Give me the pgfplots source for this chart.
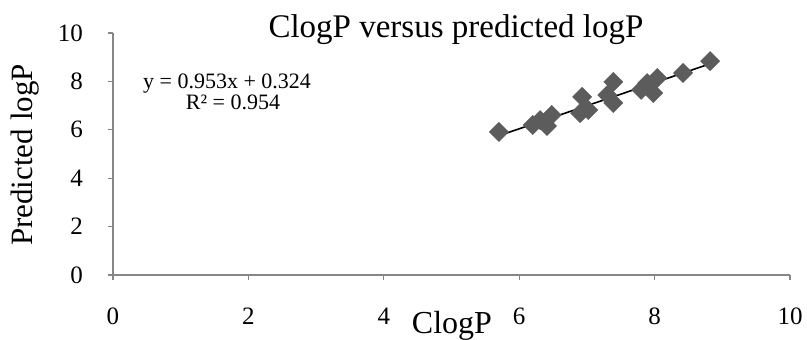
\documentclass[border=0pt]{standalone}
\usepackage{fontspec}
\setmainfont{Liberation Serif}
\usepackage{pgfplots}
\pgfplotsset{compat=1.18}
\definecolor{axgray}{RGB}{134,134,134}
\definecolor{mk}{RGB}{92,92,92}
\begin{document}
\begin{tikzpicture}
\begin{axis}[name=ax, scale only axis, width=677bp, height=242bp,
 xmin=0, xmax=10, ymin=0, ymax=10,
 xtick={0,2,...,10}, ytick={0,2,...,10},
 axis x line=bottom, axis y line=left,
 axis line style={-, axgray, line width=1.2bp},
 tick style={axgray, line width=1.2bp}, tick align=outside, major tick length=5bp,
 /pgf/number format/assume math mode=true,
 tick label style={font=\fontsize{25bp}{30bp}\selectfont, inner sep=0pt, text=black},
 xticklabel style={anchor=base, yshift=-44bp},
 yticklabel style={anchor=east, xshift=-25bp},
 clip=false]
\addplot[only marks, mark=square*, mark size=6.8bp, mark options={rotate=45, fill=mk, draw=mk}]
 coordinates {
 (5.70,5.91) (6.20,6.20) (6.31,6.40) (6.41,6.16) (6.48,6.61)
 (6.90,6.69) (6.93,7.36) (7.02,6.82) (7.30,7.44) (7.39,7.98)
 (7.39,7.11) (7.80,7.65) (7.89,7.93) (7.98,7.52) (8.04,8.14)
 (8.42,8.35) (8.82,8.84)};
\addplot[black, line width=1.6bp, no marks] coordinates {(5.70,5.756) (8.82,8.729)};
\end{axis}
\node[anchor=base, font=\fontsize{33bp}{38bp}\selectfont, inner sep=0pt] at ([xshift=343bp, yshift=237bp]ax.south west) {ClogP versus predicted logP};
\node[anchor=base, font=\fontsize{22bp}{26bp}\selectfont, inner sep=0pt] at ([xshift=114bp, yshift=186bp]ax.south west) {y = 0.953x + 0.324};
\node[anchor=base, font=\fontsize{22bp}{26bp}\selectfont, inner sep=0pt] at ([xshift=120bp, yshift=165bp]ax.south west) {R² = 0.954};
\node[anchor=base, rotate=90, font=\fontsize{31bp}{36bp}\selectfont, inner sep=0pt] at ([xshift=-80bp, yshift=120bp]ax.south west) {Predicted logP};
\node[anchor=base, font=\fontsize{32bp}{38bp}\selectfont, inner sep=0pt] at ([xshift=339bp, yshift=-58bp]ax.south west) {ClogP};
\pgfresetboundingbox
\path[use as bounding box] ([xshift=-113bp, yshift=-65bp]ax.south west) rectangle ([xshift=17bp, yshift=33bp]ax.north east);
\end{tikzpicture}
\end{document}
